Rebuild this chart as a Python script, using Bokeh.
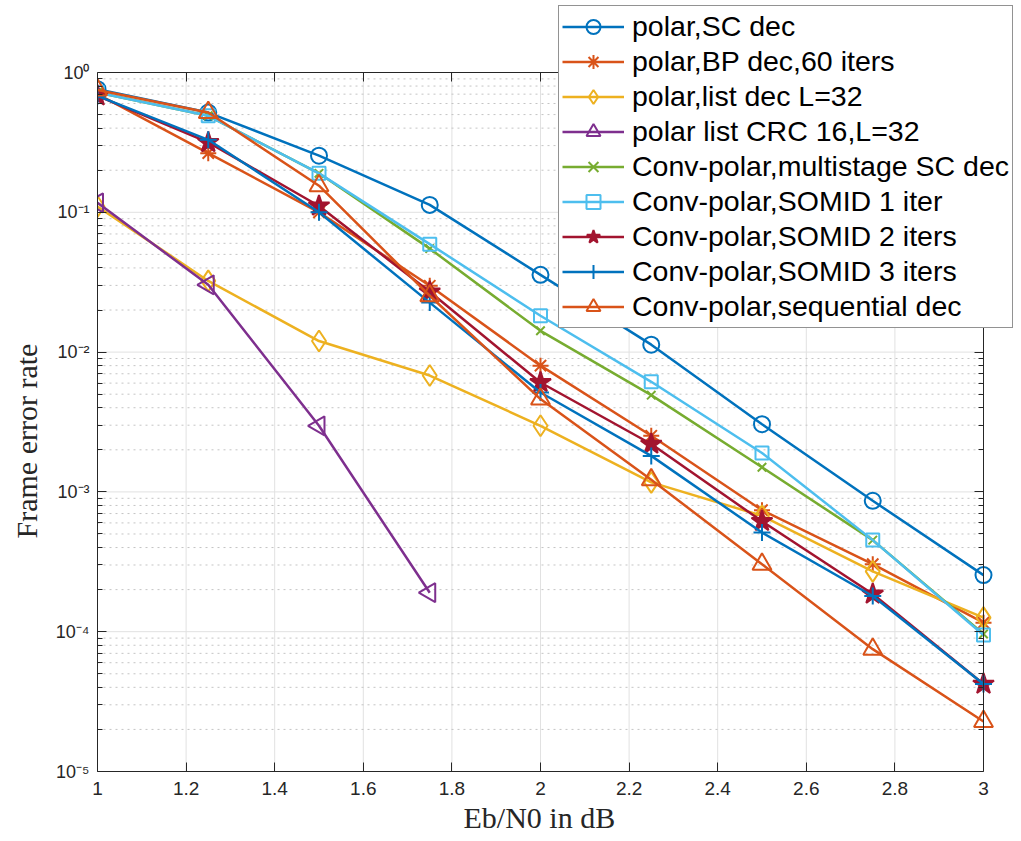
import math
from bokeh.plotting import figure
from bokeh.models import (FixedTicker, LogAxis, LinearAxis, Legend, LegendItem, Title,
                          CustomJSTickFormatter, Range1d, CustomLabelingPolicy)
from bokeh.embed import file_html
from bokeh.resources import INLINE

# ---------------- data ----------------
ebn0 = [1.0, 1.25, 1.5, 1.75, 2.0, 2.25, 2.5, 2.75, 3.0]
ebn0_crc = [1.0, 1.25, 1.5, 1.75]

fer_sc = [0.76, 0.517, 0.254, 0.113, 0.0357, 0.0113, 0.00305, 0.000864, 0.000254]
fer_bp = [0.70, 0.265, 0.100, 0.0298, 0.0080, 0.00252, 0.00074, 0.000304, 0.000116]
fer_list = [0.11, 0.0323, 0.0120, 0.0068, 0.00297, 0.00117, 0.000675, 0.00027, 0.000126]
fer_crc = [0.117, 0.0303, 0.00297, 0.00019]
fer_ms = [0.72, 0.49, 0.19, 0.055, 0.0142, 0.00492, 0.0015, 0.000452, 0.0000962]
fer_somid1 = [0.72, 0.49, 0.19, 0.0592, 0.0182, 0.00613, 0.0019, 0.000452, 0.0000946]
fer_somid2 = [0.68, 0.316, 0.111, 0.027, 0.00606, 0.0022, 0.000616, 0.000186, 0.0000422]
fer_somid3 = [0.68, 0.33, 0.10, 0.0226, 0.00514, 0.00181, 0.000512, 0.00018, 0.0000422]
fer_seq = [0.75, 0.517, 0.155, 0.0253, 0.00461, 0.00122, 0.000304, 0.000075, 0.0000228]

labels = ["polar,SC dec", "polar,BP dec,60 iters", "polar,list dec L=32",
          "polar list CRC 16,L=32", "Conv-polar,multistage SC dec",
          "Conv-polar,SOMID 1 iter", "Conv-polar,SOMID 2 iters",
          "Conv-polar,SOMID 3 iters", "Conv-polar,sequential dec"]

x_ticks = [1.0, 1.2, 1.4, 1.6, 1.8, 2.0, 2.2, 2.4, 2.6, 2.8, 3.0]
y_exponents = [-5, -4, -3, -2, -1, 0]
x_min, x_max = 1.0, 3.0
y_min, y_max = 1e-5, 1.0

# ---------------- styles ----------------
series = [
    (ebn0, fer_sc, "#0072BD", "circle", 16, 0.0, False),
    (ebn0, fer_bp, "#D95319", "asterisk", 16, 0.0, False),
    (ebn0, fer_list, "#EDB120", "diamond", 21, 0.0, False),
    (ebn0_crc, fer_crc, "#7E2F8E", "triangle", 19, math.pi / 2, False),
    (ebn0, fer_ms, "#77AC30", "x", 12, 0.0, False),
    (ebn0, fer_somid1, "#4DBEEE", "square", 13, 0.0, False),
    (ebn0, fer_somid2, "#A2142F", "star", 22, 0.0, True),
    (ebn0, fer_somid3, "#0072BD", "cross", 17, 0.0, False),
    (ebn0, fer_seq, "#D95319", "triangle", 19, 0.0, False),
]

AX = "#262626"
W, H = 1021, 841
LEFT, BOTTOM, TOP, RIGHT = 97, 70, 4, 4   # frame borders (pixels)
BOX_TOP, BOX_RIGHT = 72, 983              # where the axes box ends (pixels)

# the frame reaches almost to the top and right edges of the canvas (room for the
# legend); ranges are chosen so the axes box [1,3] x [1e-5,1] sits at [97,983] x [72,771]
px_per_x = (BOX_RIGHT - LEFT) / (x_max - x_min)
px_per_dec = (H - BOTTOM - BOX_TOP) / (math.log10(y_max) - math.log10(y_min))
x_end = x_min + (W - RIGHT - LEFT) / px_per_x
y_end = 10 ** (math.log10(y_min) + (H - BOTTOM - TOP) / px_per_dec)

p = figure(width=W, height=H, y_axis_type="log",
           x_range=Range1d(x_min, x_end), y_range=Range1d(y_min, y_end),
           output_backend="svg", toolbar_location=None,
           min_border_left=LEFT, min_border_right=RIGHT, min_border_top=TOP,
           min_border_bottom=BOTTOM,
           background_fill_color="white", border_fill_color="white",
           outline_line_color=None)
p.xgrid.visible = False
p.ygrid.visible = False

xticker = FixedTicker(ticks=x_ticks, minor_ticks=[])
y_major = [10.0 ** e for e in y_exponents]
y_minor = [m * 10.0 ** e for e in y_exponents[:-1] for m in range(2, 10)]
yticker = FixedTicker(ticks=y_major, minor_ticks=y_minor)

yfmt = CustomJSTickFormatter(code="""
const e = Math.round(Math.log10(tick));
const sup = {'-':'\u207b','0':'\u2070','1':'\u00b9','2':'\u00b2','3':'\u00b3','4':'\u2074','5':'\u2075'};
return '10' + String(e).split('').map(c => sup[c]).join('');
""")
hide = CustomLabelingPolicy(code="for (const i of Array.from(indices)) indices.unset(i)")

def style_axis(ax):
    ax.axis_line_color = AX
    ax.axis_line_width = 1
    ax.major_tick_line_color = AX
    ax.minor_tick_line_color = AX
    ax.major_label_text_font = "Liberation Sans"
    ax.major_label_text_color = AX
    ax.major_label_text_font_size = "19px"

# bottom axis
xa = p.xaxis[0]
style_axis(xa)
xa.ticker = xticker
xa.bounds = (x_min, x_max)
xa.major_tick_in, xa.major_tick_out = 9, 0
xa.minor_tick_line_color = None
xa.major_label_standoff = 10

# left axis
ya = p.yaxis[0]
style_axis(ya)
ya.major_label_text_font_size = "18px"
ya.ticker = yticker
ya.formatter = yfmt
ya.bounds = (y_min, y_max)
ya.major_tick_in, ya.major_tick_out = 9, 0
ya.minor_tick_in, ya.minor_tick_out = 5, 0
ya.major_label_standoff = 8

# right edge of the box: an axis drawn at x = 3
ra = LogAxis(ticker=yticker, formatter=yfmt, fixed_location=x_max, bounds=(y_min, y_max),
             major_label_policy=hide)
style_axis(ra)
ra.major_label_text_font_size = "1px"
ra.major_label_standoff = 0
ra.major_tick_in, ra.major_tick_out = 9, 0
ra.minor_tick_in, ra.minor_tick_out = 5, 0
p.add_layout(ra, "right")

# top edge of the box: an axis drawn at y = 1
ta = LinearAxis(ticker=xticker, fixed_location=y_max, bounds=(x_min, x_max),
                major_label_policy=hide)
style_axis(ta)
ta.major_label_text_font_size = "1px"
ta.major_label_standoff = 0
ta.major_tick_in, ta.major_tick_out = 9, 0
ta.minor_tick_line_color = None
p.add_layout(ta, "above")

# axis titles
p.add_layout(Title(text="Eb/N0 in dB", align="left", offset=366, vertical_align="bottom",
                   standoff=2, text_font="Liberation Serif", text_font_size="30px",
                   text_font_style="normal", text_color=AX), "below")
p.add_layout(Title(text="Frame error rate", align="left", offset=233, vertical_align="top",
                   standoff=16, text_font="Liberation Serif", text_font_size="30px",
                   text_font_style="normal", text_color=AX), "left")

# grid lines, kept inside the box
p.segment(x0=x_ticks, x1=x_ticks, y0=[y_min] * len(x_ticks), y1=[y_max] * len(x_ticks),
          line_color="#e1e1e1", line_width=1)
p.segment(x0=[x_min] * len(y_minor), x1=[x_max] * len(y_minor), y0=y_minor, y1=y_minor,
          line_color="#c4c4c4", line_width=1, line_dash="2 4")
p.segment(x0=[x_min] * len(y_major), x1=[x_max] * len(y_major), y0=y_major, y1=y_major,
          line_color="#e1e1e1", line_width=1)

items = []
for (xs, ys, col, mk, sz, ang, filled), lab in zip(series, labels):
    ln = p.line(xs, ys, line_color=col, line_width=2.5)
    sc = p.scatter(xs, ys, marker=mk, size=sz, angle=ang, line_color=col, line_width=2,
                   fill_color=col if filled else None)
    items.append(LegendItem(label=lab, renderers=[ln, sc]))

legend = Legend(items=items, location=(461, 443),
                label_text_font="Liberation Sans", label_text_font_size="28.5px",
                label_text_color="black",
                glyph_width=62, glyph_height=35, label_height=35, label_standoff=8,
                padding=3, spacing=0, margin=0,
                border_line_color=AX, border_line_width=1,
                background_fill_color="white", background_fill_alpha=1.0)
p.add_layout(legend)

open("out.html", "w").write(file_html(p, INLINE))
